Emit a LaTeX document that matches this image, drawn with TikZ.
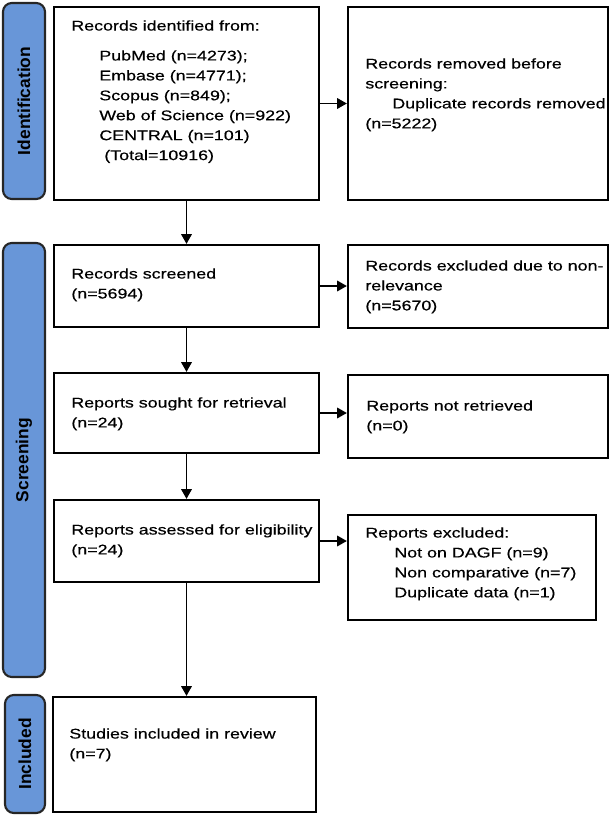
\documentclass[tikz,border=0pt]{standalone}
\usepackage{fontspec}
\setmainfont{Liberation Sans}[FakeStretch=1.27, FakeBold=0.4]
\newfontfamily\barfont{Liberation Sans}
\usetikzlibrary{arrows.meta, positioning}
\newdimen\pxu
\pxu=0.02cm
\definecolor{barblue}{RGB}{104,150,216}
\tikzset{
  box/.style    = {draw=black, line width=1.3pt, fill=white, inner sep=0pt},
  bar/.style    = {draw=black!85, line width=1.2pt, fill=barblue, rounded corners=5pt,
                   inner sep=0pt, rotate=90,
                   font=\barfont\bfseries\fontsize{9.9pt}{12pt}\selectfont},
  txt/.style    = {anchor=north west, align=left, inner sep=0pt,
                   font=\fontsize{8pt}{11.34pt}\selectfont},
  arrow/.style  = {-{Triangle[length=5.5pt, width=6pt]}, line width=0.8pt, black},
}

\begin{document}
\begin{tikzpicture}[
    x=\pxu, y=-\pxu,
    lbox/.style={box, minimum width=265\pxu},
    rbox/.style={box, minimum width=260\pxu}
]
\useasboundingbox (0,0) rectangle (614,818);

% phase bars
\node[bar, minimum width=196\pxu, minimum height=42\pxu] (identbar)  at (24,101) {Identification};
\node[bar, minimum width=434\pxu, minimum height=42\pxu] (screenbar) at (24,460) {Screening};
\node[bar, minimum width=118\pxu, minimum height=40\pxu] (inclbar)   at (25,754) {Included};

% left column
\node[lbox, minimum height=193\pxu] (ident)    at (186.5,103.5) {};
\node[lbox, minimum height=82\pxu]  (screened) at (186.5,286) {};
\node[lbox, minimum height=80\pxu]  (sought)   at (186.5,413) {};
\node[lbox, minimum height=82\pxu]  (assessed) at (186.5,541) {};
\node[box, minimum width=263\pxu, minimum height=115\pxu] (studies) at (184.5,754.5) {};

% right column
\node[rbox, minimum height=193\pxu] (removed)  at (478,103.5) {};
\node[rbox, minimum height=83\pxu]  (excluded) at (478,286.5) {};
\node[rbox, minimum height=83\pxu]  (notret)   at (478,416.5) {};
\node[box, minimum width=248\pxu, minimum height=105\pxu] (repexcl) at (472,567.5) {};

% texts
\node[txt] (identtxt) at (71,20) {Records identified from:\\[10\pxu]
  \hspace*{28\pxu}PubMed (n=4273);\\
  \hspace*{28\pxu}Embase (n=4771);\\
  \hspace*{28\pxu}Scopus (n=849);\\
  \hspace*{28\pxu}Web of Science (n=922)\\
  \hspace*{28\pxu}CENTRAL (n=101)\\
  \hspace*{33\pxu}(Total=10916)};
\node[txt] (removedtxt) at (365,58) {Records removed before\\
  screening:\\
  \hspace*{27\pxu}Duplicate records removed\\
  (n=5222)};
\node[txt] (screenedtxt) at (71,268) {Records screened\\(n=5694)};
\node[txt] (excludedtxt) at (365,260) {Records excluded due to non-\\relevance\\(n=5670)};
\node[txt] (soughttxt) at (71,397) {Reports sought for retrieval\\(n=24)};
\node[txt] (notrettxt) at (366,400) {Reports not retrieved\\(n=0)};
\node[txt] (assessedtxt) at (71,524) {Reports assessed for eligibility\\(n=24)};
\node[txt] (repexcltxt) at (365,527) {Reports excluded:\\
  \hspace*{29\pxu}Not on DAGF (n=9)\\
  \hspace*{29\pxu}Non comparative (n=7)\\
  \hspace*{29\pxu}Duplicate data (n=1)};
\node[txt] (studiestxt) at (69,728) {Studies included in review\\(n=7)};

% arrows
\foreach \a/\b in {ident/screened, screened/sought, sought/assessed, assessed/studies} {
    \draw[arrow] (\a.south) -- (\a.south |- \b.north);
}
\foreach \a/\b in {ident/removed, screened/excluded, sought/notret, assessed/repexcl} {
    \draw[arrow] (\a.east) -- (\a.east -| \b.west);
}

\end{tikzpicture}
\end{document}
